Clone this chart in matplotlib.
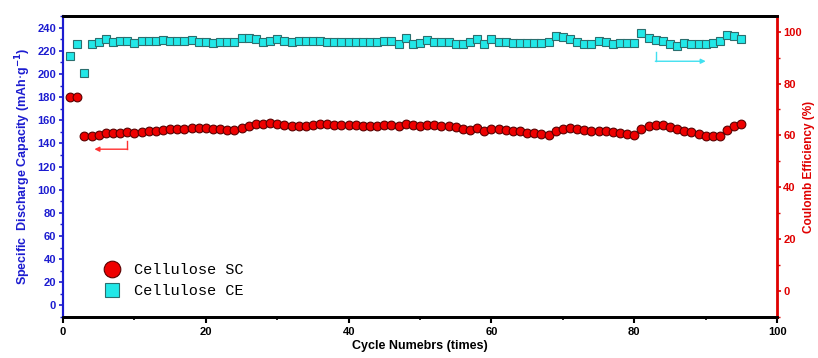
import numpy as np
import matplotlib
matplotlib.use('Agg')
import matplotlib.pyplot as plt
from matplotlib.ticker import MultipleLocator

plt.rcParams['font.family'] = ['Liberation Sans', 'DejaVu Sans']

# discharge capacity (mAh/g) and coulomb efficiency (%) per cycle
cycles = list(range(1, 96))
sc_capacity = [
    180.4, 180.0, 146.5, 146.8, 147.6, 148.8, 149.1, 149.4, 149.9, 149.4,
    149.9, 150.5, 151.1, 151.7, 152.2, 152.5, 152.8, 153.1, 153.4, 153.1,
    152.5, 152.2, 151.7, 151.7, 153.4, 155.4, 156.5, 156.8, 157.4, 156.8,
    155.7, 155.1, 155.1, 155.4, 156.0, 156.8, 156.5, 156.3, 156.0, 155.7,
    155.7, 155.4, 155.4, 155.4, 155.7, 156.0, 155.1, 156.8, 156.0, 155.4,
    156.0, 155.7, 155.4, 155.4, 153.9, 152.2, 152.0, 153.4, 151.1, 152.5,
    152.2, 151.7, 151.1, 150.5, 149.4, 148.8, 148.2, 147.1, 150.5, 152.5,
    153.4, 152.8, 151.7, 150.5, 151.1, 150.5, 149.7, 149.1, 148.2, 147.4,
    152.2, 154.8, 155.7, 156.0, 154.5, 152.2, 150.5, 149.7, 148.2, 146.8,
    146.2, 146.8, 151.7, 155.4, 156.8,
]
ce_efficiency = [
    90.6, 95.4, 84.1, 95.4, 96.1, 97.0, 96.1, 96.3, 96.3, 95.7,
    96.3, 96.3, 96.3, 96.6, 96.5, 96.5, 96.5, 96.6, 96.2, 96.2,
    95.7, 96.0, 96.1, 96.2, 97.4, 97.6, 97.0, 96.2, 96.3, 97.1,
    96.5, 96.0, 96.3, 96.3, 96.3, 96.3, 96.1, 96.1, 96.1, 96.1,
    96.1, 96.1, 96.1, 96.1, 96.3, 96.5, 95.4, 97.4, 95.4, 95.8,
    96.7, 96.1, 96.1, 96.1, 95.2, 95.2, 96.1, 97.0, 95.1, 97.0,
    96.1, 96.1, 95.8, 95.8, 95.8, 95.8, 95.8, 96.1, 98.3, 97.8,
    97.0, 96.1, 95.2, 95.2, 96.5, 96.1, 95.4, 95.8, 95.8, 95.8,
    99.3, 97.6, 96.7, 96.3, 95.4, 94.5, 95.8, 95.4, 95.4, 95.4,
    95.8, 96.5, 98.7, 98.4, 97.0,
]

BLUE = '#1c1cd0'
RED = '#e00000'

fig = plt.figure(figsize=(8.18, 3.58), dpi=100)
ax = fig.add_axes([0.077, 0.1145, 0.873, 0.8405])
ax2 = ax.twinx()

l1, = ax.plot(cycles, sc_capacity, 'o', ms=6.3, mfc='#ee0000', mec='#5a0000',
              mew=0.8, label='Cellulose SC', zorder=3)
l2, = ax2.plot(cycles, ce_efficiency, 's', ms=5.4, mfc='#22e8e8', mec='#2b6f6f',
               mew=0.8, label='Cellulose CE', zorder=3)

ax.set_xlim(0, 100)
ax.set_ylim(-10, 250)
ax2.set_ylim(-10, 106)

ax.xaxis.set_major_locator(MultipleLocator(20))
ax.xaxis.set_minor_locator(MultipleLocator(10))
ax.yaxis.set_major_locator(MultipleLocator(20))
ax.yaxis.set_minor_locator(MultipleLocator(10))
ax2.yaxis.set_major_locator(MultipleLocator(20))
ax2.yaxis.set_minor_locator(MultipleLocator(10))

ax.tick_params(axis='x', which='major', direction='out', length=4, width=1.5,
               labelsize=8, pad=3)
ax.tick_params(axis='x', which='minor', direction='out', length=2.5, width=1.2)
ax.tick_params(axis='y', which='major', direction='out', length=3, width=1.2,
               colors=BLUE, labelsize=8, pad=2)
ax.tick_params(axis='y', which='minor', direction='out', length=2, width=1,
               colors=BLUE)
ax2.tick_params(axis='y', which='major', direction='out', length=3, width=1.2,
                colors=RED, labelsize=8, pad=1.5)
ax2.tick_params(axis='y', which='minor', direction='out', length=2, width=1,
                colors=RED)
for lab in ax.get_xticklabels() + ax.get_yticklabels() + ax2.get_yticklabels():
    lab.set_fontweight('bold')

for a in (ax, ax2):
    a.spines['top'].set_linewidth(2)
    a.spines['bottom'].set_linewidth(2)
    a.spines['top'].set_color('black')
    a.spines['bottom'].set_color('black')
ax2.spines['left'].set_color(BLUE)
ax2.spines['left'].set_linewidth(1.5)
ax2.spines['right'].set_color(RED)
ax2.spines['right'].set_linewidth(2)
ax.spines['left'].set_color(BLUE)
ax.spines['left'].set_linewidth(1.5)

ax.set_xlabel('Cycle Numebrs (times)', fontsize=9, fontweight='bold', labelpad=2)
ax.set_ylabel('Specific  Discharge Capacity (mAh$\\cdot$g$^{\\mathbf{-1}}$)',
              fontsize=9, fontweight='bold', color=BLUE, labelpad=3)
ax2.set_ylabel('Coulomb Efficiency (%)', fontsize=8.5, fontweight='bold',
               color=RED, labelpad=1)

# arrows pointing each series to its axis
ax.plot([9, 9], [142.5, 135], color='#ff3030', lw=1)
ax.annotate('', xy=(4.4, 135), xytext=(9.05, 135),
            arrowprops=dict(arrowstyle='-|>', color='#ff3030', lw=1,
                            mutation_scale=7, shrinkA=0, shrinkB=0))
ax2.plot([83, 83], [92, 88.6], color='#40e0f0', lw=1)
ax2.annotate('', xy=(90, 88.6), xytext=(82.95, 88.6),
             arrowprops=dict(arrowstyle='-|>', color='#40e0f0', lw=1,
                             mutation_scale=7, shrinkA=0, shrinkB=0))

ax.legend(handles=[l1, l2], loc='upper left', bbox_to_anchor=(0.028, 0.225),
          frameon=False, markerscale=1.9, handletextpad=0.45, labelspacing=0.45,
          prop={'family': 'Liberation Mono', 'size': 11})

fig.savefig('out.png', dpi=100)
